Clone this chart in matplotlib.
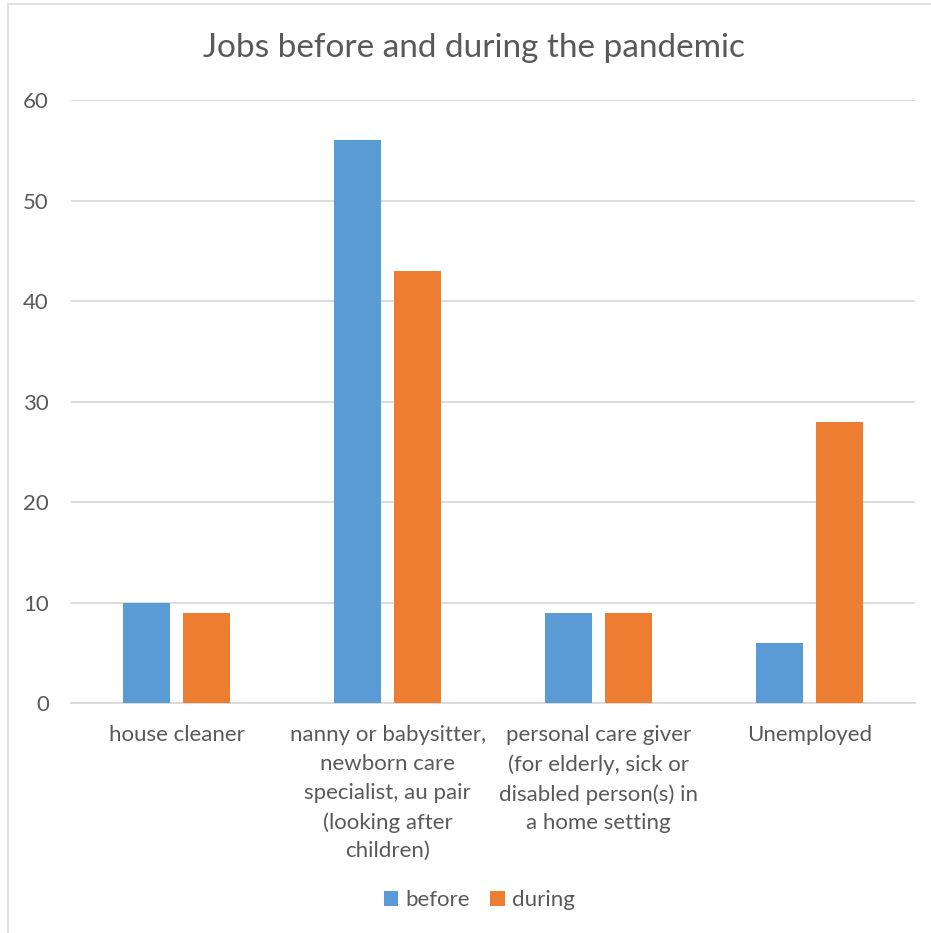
import matplotlib.pyplot as plt
import numpy as np
from matplotlib.patches import Rectangle

# Job categories and counts
categories = [
    "house cleaner",
    "nanny or babysitter,\nnewborn care\nspecialist, au pair\n(looking after\nchildren)",
    "personal care giver\n(for elderly, sick or\ndisabled person(s) in\na home setting",
    "Unemployed",
]
before = [10, 56, 9, 6]
during = [9, 43, 9, 28]

blue = "#5B9BD5"
orange = "#ED7D31"
text_grey = "#595959"
grid_grey = "#D9D9D9"

plt.rcParams["font.family"] = ["Lato", "DejaVu Sans"]

fig = plt.figure(figsize=(9.31, 9.33), dpi=100)
ax = fig.add_axes([0.0763, 0.2465, 0.9067, 0.6463])

x = np.arange(len(categories))
w = 0.223
off = 0.142
ax.bar(x - off, before, width=w, color=blue, label="before", zorder=3)
ax.bar(x + off, during, width=w, color=orange, label="during", zorder=3)

ax.set_xlim(-0.5, len(categories) - 0.5)
ax.set_ylim(0, 60)
ax.set_yticks(range(0, 61, 10))
ax.yaxis.grid(True, color=grid_grey, linewidth=1.3, zorder=0)
ax.set_xticks(x)
ax.set_xticklabels(categories, fontsize=16, color=text_grey, linespacing=1.55, va="top")
ax.tick_params(axis="x", length=0, pad=16)
ax.tick_params(axis="y", length=0, pad=16, labelsize=16, labelcolor=text_grey)

for side in ["top", "right", "left"]:
    ax.spines[side].set_visible(False)
ax.spines["bottom"].set_color(grid_grey)
ax.spines["bottom"].set_linewidth(1.3)

fig.text(0.509, 0.949, "Jobs before and during the pandemic", ha="center", va="center",
         fontsize=24, color=text_grey)

leg = fig.legend(loc="center", bbox_to_anchor=(0.515, 0.035), ncol=2, frameon=False,
                 fontsize=16, handlelength=0.65, handleheight=0.65, handletextpad=0.35,
                 columnspacing=0.9)
for t in leg.get_texts():
    t.set_color(text_grey)

# light frame around the chart area
fig.patches.append(Rectangle((8 / 931, -0.01), 1.0, 1 - 4 / 933 + 0.01, transform=fig.transFigure,
                             fill=False, edgecolor="#D9D9D9", linewidth=1.2))

fig.savefig("out.png", dpi=100, facecolor="white")
